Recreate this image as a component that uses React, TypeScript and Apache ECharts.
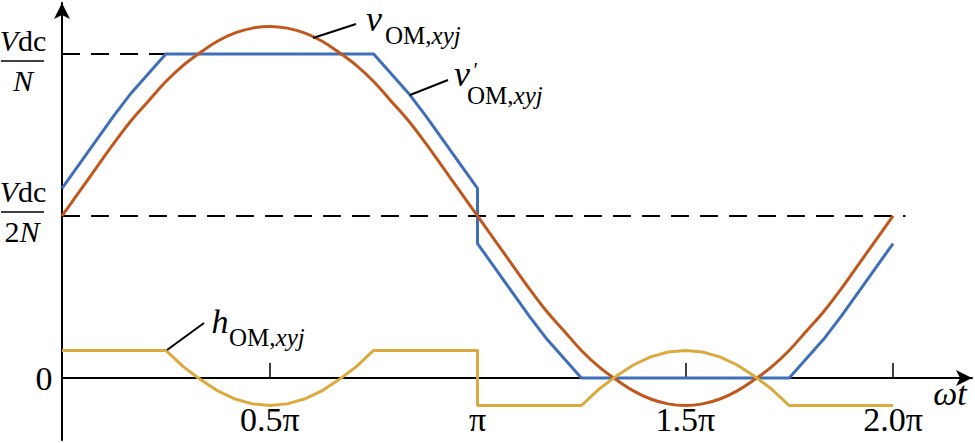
import React, { useEffect, useRef } from "react";
import * as echarts from "echarts";

// x values are in units of π
const phase = [
  0, 0.0417, 0.0833, 0.125, 0.1667, 0.2083, 0.25, 0.2917, 0.3333, 0.375, 0.4167, 0.4583,
  0.5, 0.5417, 0.5833, 0.625, 0.6667, 0.7083, 0.75, 0.7917, 0.8333, 0.875, 0.9167, 0.9583,
  1, 1.0417, 1.0833, 1.125, 1.1667, 1.2083, 1.25, 1.2917, 1.3333, 1.375, 1.4167, 1.4583,
  1.5, 1.5417, 1.5833, 1.625, 1.6667, 1.7083, 1.75, 1.7917, 1.8333, 1.875, 1.9167, 1.9583, 2,
];

// v_OM,xyj (units of Vdc/2N)
const vOM = [
  1.0, 1.15, 1.3, 1.45, 1.59, 1.71, 1.83, 1.93, 2.01, 2.08, 2.13, 2.16,
  2.17, 2.16, 2.13, 2.08, 2.01, 1.93, 1.83, 1.71, 1.59, 1.45, 1.3, 1.15,
  1.0, 0.85, 0.7, 0.55, 0.41, 0.29, 0.17, 0.07, -0.01, -0.08, -0.13, -0.16,
  -0.17, -0.16, -0.13, -0.08, -0.01, 0.07, 0.17, 0.29, 0.41, 0.55, 0.7, 0.85, 1.0,
];

// v'_OM,xyj
const vOMPrime: [number, number][] = [
  [0, 1.17], [0.0417, 1.32], [0.0833, 1.47], [0.125, 1.62], [0.1667, 1.76], [0.2083, 1.88],
  [0.25, 2.0], [0.75, 2.0], [0.7917, 1.88], [0.8333, 1.76], [0.875, 1.62], [0.9167, 1.47],
  [0.9583, 1.32], [1, 1.17], [1, 0.83], [1.0417, 0.68], [1.0833, 0.53], [1.125, 0.38],
  [1.1667, 0.24], [1.2083, 0.12], [1.25, 0], [1.75, 0], [1.7917, 0.12], [1.8333, 0.24],
  [1.875, 0.38], [1.9167, 0.53], [1.9583, 0.68], [2, 0.83],
];

// h_OM,xyj
const hOM: [number, number][] = [
  [0, 0.17], [0.25, 0.17], [0.2917, 0.07], [0.3333, -0.01], [0.375, -0.08], [0.4167, -0.13],
  [0.4583, -0.16], [0.5, -0.17], [0.5417, -0.16], [0.5833, -0.13], [0.625, -0.08],
  [0.6667, -0.01], [0.7083, 0.07], [0.75, 0.17], [1, 0.17], [1, -0.17], [1.25, -0.17],
  [1.2917, -0.07], [1.3333, 0.01], [1.375, 0.08], [1.4167, 0.13], [1.4583, 0.16], [1.5, 0.17],
  [1.5417, 0.16], [1.5833, 0.13], [1.625, 0.08], [1.6667, 0.01], [1.7083, -0.07],
  [1.75, -0.17], [2, -0.17],
];

const refTop: [number, number][] = [[0, 2], [0.75, 2]];
const refMid: [number, number][] = [[0, 1], [2.03, 1]];

const xTickValues = [0.5, 1, 1.5, 2];
const xTickLabels = ["0.5π", "π", "1.5π", "2.0π"];

const SERIF = "Liberation Serif";
const RED = "#C0571C";
const BLUE = "#3E6FB8";
const YELLOW = "#DCA93C";

export default function App() {
  const ref = useRef<HTMLDivElement>(null);
  useEffect(() => {
    document.body.style.margin = "0";
    if (!ref.current) return;
    const chart = echarts.init(ref.current, null, { renderer: "svg" });
    const redData = phase.map((x, i) => [x, vOM[i]]);
    const txt = (
      text: string,
      x: number,
      y: number,
      size: number,
      italic: boolean,
      align = "center"
    ) => ({
      type: "text",
      z: 100,
      style: {
        text,
        x,
        y,
        align,
        verticalAlign: "middle",
        fontFamily: SERIF,
        fontSize: size,
        fontStyle: italic ? "italic" : "normal",
        fill: "#000",
      },
    });
    const richTxt = (text: string, x: number, y: number, size: number, align = "center") => ({
      type: "text",
      z: 100,
      style: {
        text,
        x,
        y,
        align,
        verticalAlign: "middle",
        rich: {
          i: { fontFamily: SERIF, fontSize: size, fontStyle: "italic", fill: "#000" },
          r: { fontFamily: SERIF, fontSize: size, fontStyle: "normal", fill: "#000" },
        },
      },
    });
    const sub = (x: number, y: number) => richTxt("{r|OM,}{i|xyj}", x, y, 25, "left");
    const frac = (lineY: number, den: string) => [
      richTxt("{i|V}{r|dc}", 23, lineY - 21, 30),
      {
        type: "line",
        z: 100,
        shape: { x1: 1, y1: lineY, x2: 44, y2: lineY },
        style: { stroke: "#000", lineWidth: 1.5 },
      },
      den === "N"
        ? richTxt("{i|N}", 23, lineY + 19, 30)
        : richTxt("{r|2}{i|N}", 22, lineY + 19, 30),
    ];
    const leader = (x1: number, y1: number, x2: number, y2: number) => ({
      type: "line",
      z: 100,
      shape: { x1, y1, x2, y2 },
      style: { stroke: "#000", lineWidth: 2 },
    });

    chart.setOption({
      animation: false,
      backgroundColor: "#fff",
      grid: {
        left: 62,
        right: 3,
        top: 3,
        bottom: 3,
        containLabel: false,
        outerBoundsMode: "none",
      },
      xAxis: {
        type: "value",
        min: 0,
        max: 2.19,
        splitLine: { show: false },
        axisLine: {
          onZero: true,
          symbol: ["none", "arrow"],
          symbolSize: [12, 16],
          lineStyle: { color: "#000", width: 2 },
        },
        axisTick: {
          show: true,
          inside: true,
          length: 15,
          customValues: xTickValues,
          lineStyle: { color: "#000", width: 1.5 },
        },
        axisLabel: { show: false },
      },
      yAxis: {
        type: "value",
        min: -0.383,
        max: 2.315,
        splitLine: { show: false },
        axisLine: {
          show: true,
          symbol: ["none", "arrow"],
          symbolSize: [12, 16],
          lineStyle: { color: "#000", width: 2 },
        },
        axisTick: { show: false },
        axisLabel: { show: false },
      },
      series: [
        {
          type: "line",
          data: refTop,
          symbol: "none",
          z: 1,
          lineStyle: { color: "#000", width: 2, type: [18, 11] },
        },
        {
          type: "line",
          data: refMid,
          symbol: "none",
          z: 1,
          lineStyle: { color: "#000", width: 2, type: [18, 11] },
        },
        {
          type: "line",
          data: vOMPrime,
          symbol: "none",
          z: 2,
          lineStyle: { color: BLUE, width: 3 },
        },
        {
          type: "line",
          data: redData,
          symbol: "none",
          smooth: 0.4,
          z: 3,
          lineStyle: { color: RED, width: 3 },
        },
        {
          type: "line",
          data: hOM,
          symbol: "none",
          z: 4,
          lineStyle: { color: YELLOW, width: 3 },
        },
      ],
    });

    const zeroY = chart.convertToPixel({ yAxisIndex: 0 }, 0) as number;
    const tickLabels = xTickValues.map((v, i) =>
      txt(
        xTickLabels[i],
        chart.convertToPixel({ xAxisIndex: 0 }, v) as number,
        zeroY + 42,
        34,
        false
      )
    );

    chart.setOption({
      graphic: [
        ...tickLabels,
        ...frac(61, "N"),
        ...frac(212, "2N"),
        txt("0", 44, zeroY + 1, 34, false),
        txt("ωt", 950, zeroY + 16, 34, true),
        txt("v", 374, 19, 36, true),
        sub(385, 35),
        leader(313, 38, 356, 24),
        txt("v", 462, 74, 36, true),
        txt("′", 476, 69, 22, false),
        sub(467, 95),
        leader(410, 95, 448, 80),
        txt("h", 220, 321, 34, true),
        sub(229, 337),
        leader(167, 350, 204, 323),
      ],
    });
    return () => chart.dispose();
  }, []);
  return (
    <div
      ref={ref}
      style={{ position: "absolute", left: 0, top: 0, width: 975, height: 443 }}
    />
  );
}
